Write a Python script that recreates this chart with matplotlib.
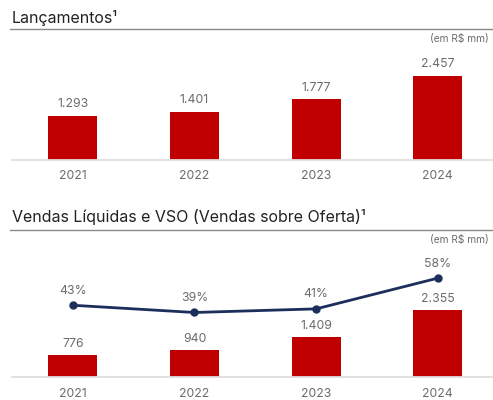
import matplotlib
matplotlib.use("Agg")
import matplotlib.pyplot as plt

plt.rcParams['font.family'] = ['Inter', 'DejaVu Sans']

years = ["2021", "2022", "2023", "2024"]
lancamentos = [1293, 1401, 1777, 2457]
vendas = [776, 940, 1409, 2355]
vso = [43, 39, 41, 58]

BAR = "#C00000"
LINE = "#1C2F5C"
TXT = "#6b6b6b"
TITLE = "#222222"

W, H = 493, 400
fig = plt.figure(figsize=(W / 100, H / 100), dpi=100)


def px_axes(left, top, right, bottom):
    return fig.add_axes([left / W, 1 - bottom / H, (right - left) / W, (bottom - top) / H])


def fmt(v):
    return f"{v:,}".replace(",", ".")


def style_axis(ax, ymax):
    x = range(len(years))
    ax.set_xlim(-0.50, 3.454)
    ax.set_ylim(0, ymax)
    for s in ("top", "left", "right"):
        ax.spines[s].set_visible(False)
    ax.spines["bottom"].set_color("#dedede")
    ax.spines["bottom"].set_linewidth(1.3)
    ax.set_yticks([])
    ax.set_xticks(list(x))
    ax.set_xticklabels(years, color=TXT, fontsize=8.8)
    ax.tick_params(axis="x", length=0, pad=7.5)
    ax.patch.set_alpha(0)


def header(title, y_title, y_rule, y_unit):
    fig.text(12 / W, 1 - y_title / H, title, fontsize=11.5, color=TITLE,
             ha="left", va="baseline")
    fig.add_artist(plt.Line2D([10 / W, 1], [1 - y_rule / H] * 2,
                              color="#8a8a8a", lw=1.0))
    fig.text(489 / W, 1 - y_unit / H, "(em R$ mm)", fontsize=7.3, color=TXT,
             ha="right", va="baseline")


# Lançamentos
header("Lançamentos¹", 23, 28.5, 42)
ax1 = px_axes(12, 50, 493, 160)
style_axis(ax1, 110 / 0.0341)
ax1.bar(range(len(years)), lancamentos, width=0.403, color=BAR)
for i, v in enumerate(lancamentos):
    ax1.annotate(fmt(v), (i, v), xytext=(0, 6.3), textcoords="offset points",
                 ha="center", va="baseline", fontsize=8.8, color=TXT)

# Vendas Líquidas e VSO
header("Vendas Líquidas e VSO (Vendas sobre Oferta)¹", 222, 229.5, 243)
ax2 = px_axes(12, 255, 493, 377.3)
style_axis(ax2, 122.3 / 0.0286)
ax2.bar(range(len(years)), vendas, width=0.403, color=BAR)
for i, v in enumerate(vendas):
    ax2.annotate(fmt(v), (i, v), xytext=(0, 6.0), textcoords="offset points",
                 ha="center", va="baseline", fontsize=8.8, color=TXT)

ax3 = ax2.twinx()
ax3.set_ylim(3.15, 70.8)
ax3.axis("off")
ax3.plot(range(len(years)), vso, color=LINE, lw=2.0, marker="o", ms=5,
         solid_capstyle="round")
for i, v in enumerate(vso):
    ax3.annotate(f"{v}%", (i, v), xytext=(0, 8.2), textcoords="offset points",
                 ha="center", va="baseline", fontsize=8.8, color=TXT)

fig.savefig("out.png", dpi=100)
